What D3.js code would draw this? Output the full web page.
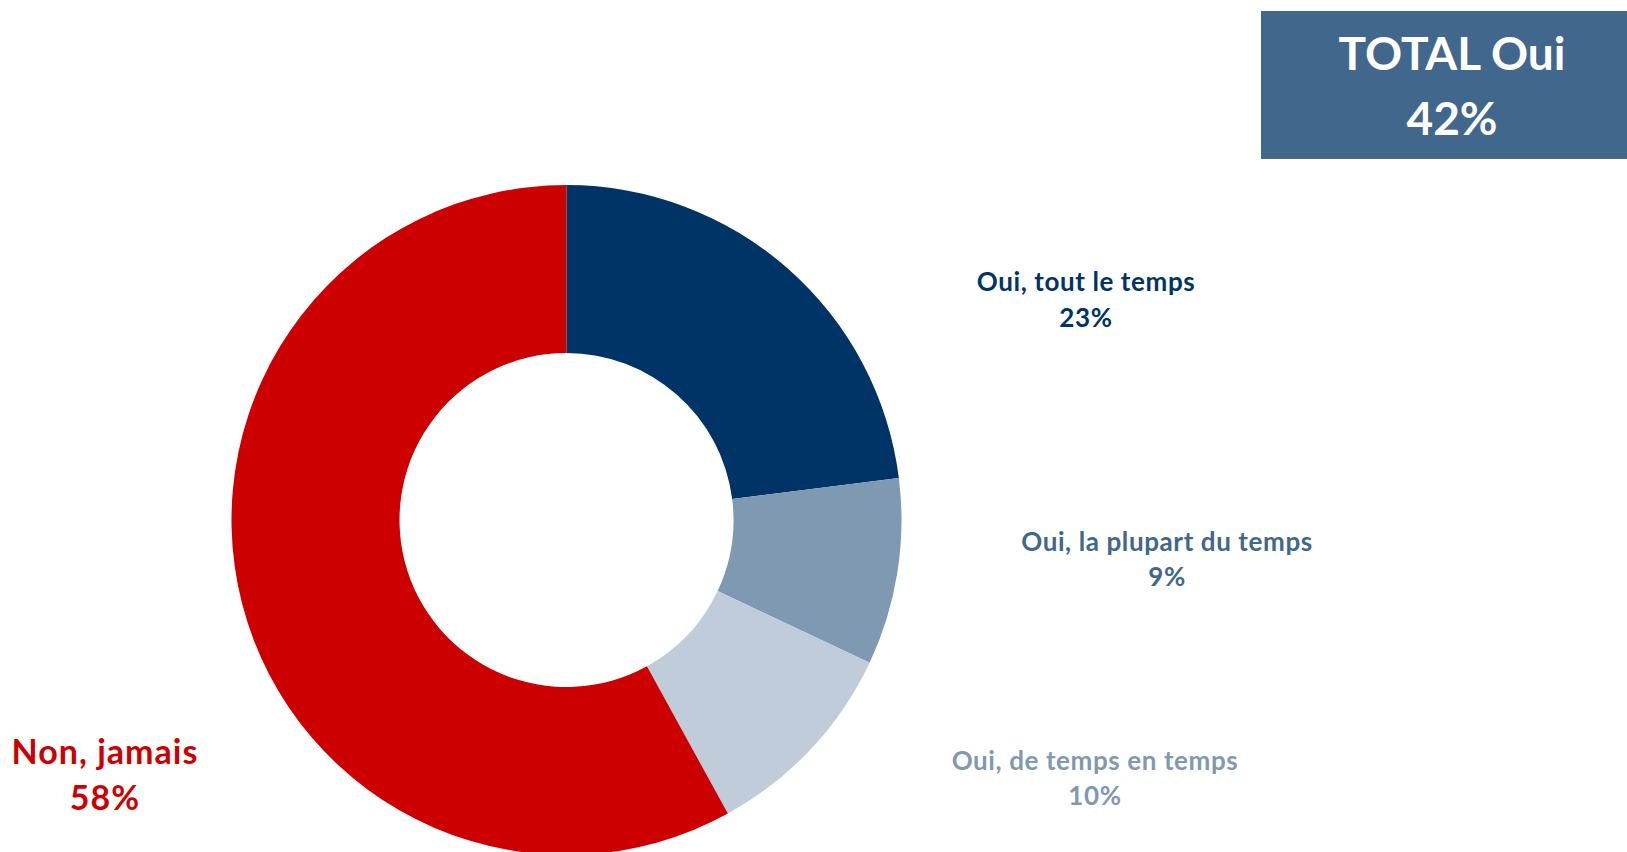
<!DOCTYPE html>
<html>
<head>
<meta charset="utf-8">
<script src="https://cdn.jsdelivr.net/npm/d3@7"></script>
<style>
  html, body { margin: 0; padding: 0; background: #fff; }
  svg { display: block; font-family: Lato, "Open Sans", sans-serif; font-weight: 700; }
</style>
</head>
<body>
<div id="chart"></div>
<script>
// Data
const categories = ["Oui, tout le temps", "Oui, la plupart du temps", "Oui, de temps en temps", "Non, jamais"];
const values = [23, 9, 10, 58];
const sliceColours = ["#003366", "#7f99b2", "#c0ccda", "#cc0000"];
const labelColours = ["#003366", "#41678c", "#7f99b2", "#cc0000"];
const totalLabel = "TOTAL Oui";
const totalValue = 42;

const width = 1627;
const height = 852;

const cx = 566.5, cy = 520;
const outerR = 335, innerR = 167;

// label anchors (centre of text block, first baseline)
const labelPos = [[1086, 291], [1167, 551], [1095, 770], [105, 764]];
const labelSize = [26, 26, 26, 34];
const labelSpacing = [0.6, 0.6, 0.6, 1];
const lineGap = [36, 35, 35, 46];

const svg = d3.select("#chart").append("svg")
    .attr("width", width)
    .attr("height", height)
    .attr("viewBox", [0, 0, width, height]);

const data = categories.map((c, i) => ({name: c, value: values[i], colour: sliceColours[i], label: labelColours[i]}));

const pie = d3.pie()
    .value(d => d.value)
    .sort(null);

const arc = d3.arc()
    .innerRadius(innerR)
    .outerRadius(outerR);

svg.append("g")
    .attr("transform", `translate(${cx},${cy})`)
  .selectAll("path")
  .data(pie(data))
  .join("path")
    .attr("d", arc)
    .attr("fill", d => d.data.colour);

// slice labels
const labels = svg.selectAll("g.lbl")
  .data(data)
  .join("g")
    .attr("class", "lbl")
    .attr("transform", (d, i) => `translate(${labelPos[i][0]},${labelPos[i][1]})`)
    .style("fill", d => d.label)
    .style("font-size", (d, i) => labelSize[i] + "px")
    .style("letter-spacing", (d, i) => labelSpacing[i] + "px")
    .attr("text-anchor", "middle");

labels.append("text")
    .text(d => d.name);

labels.append("text")
    .attr("y", (d, i) => lineGap[i])
    .text(d => d3.format("d")(d.value) + "%");

// total box
const box = svg.append("g");
box.append("rect")
    .attr("x", 1261)
    .attr("y", 11)
    .attr("width", width - 1261)
    .attr("height", 148)
    .attr("fill", "#41678c");

box.append("text")
    .attr("x", 1452)
    .attr("y", 70)
    .attr("text-anchor", "middle")
    .style("fill", "#fff")
    .style("font-size", "46px")
    .text(totalLabel);

box.append("text")
    .attr("x", 1452)
    .attr("y", 135)
    .attr("text-anchor", "middle")
    .style("fill", "#fff")
    .style("font-size", "46px")
    .text(totalValue + "%");
</script>
</body>
</html>
